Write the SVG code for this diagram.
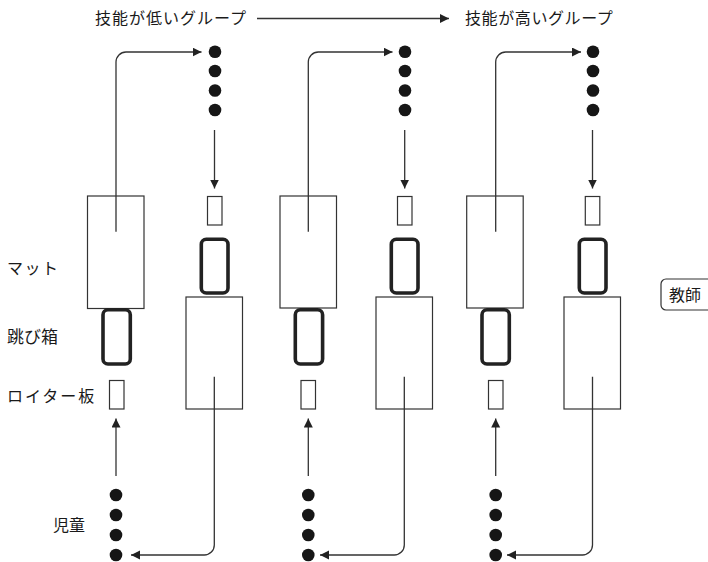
<svg xmlns="http://www.w3.org/2000/svg" width="708" height="562" viewBox="0 0 708 562">
<style>
.lbl{font-family:"Noto Sans CJK JP","Noto Sans",sans-serif;font-size:16px;fill:#1a1a1a}
.mat{fill:#fff;stroke:#333;stroke-width:1.2}
.box{fill:#fff;stroke:#222;stroke-width:3.6}
.brd{fill:#fff;stroke:#333;stroke-width:1.2}
.dot{fill:#161616}
.con{fill:none;stroke:#333;stroke-width:1.3}
</style>
<defs>
<marker id="ah" markerUnits="userSpaceOnUse" markerWidth="10" markerHeight="10" refX="9" refY="4.5" orient="auto">
<path d="M0,0 L9,4.5 L0,9 z" fill="#222"/>
</marker>
</defs>
<rect width="708" height="562" fill="#fff"/>

<g id="labels">
<text class="lbl" x="95" y="24" letter-spacing="1">技能が低いグループ</text>
<text class="lbl" x="465" y="24" letter-spacing="0.6">技能が高いグループ</text>
<text class="lbl" x="7" y="274" letter-spacing="1.5">マット</text>
<text class="lbl" x="7" y="343" style="font-size:17px">跳び箱</text>
<text class="lbl" x="7" y="402" letter-spacing="2">ロイター板</text>
<text class="lbl" x="53" y="531">児童</text>
</g>

<g id="teacher">
<rect x="661" y="279" width="60" height="31" rx="5" fill="#fff" stroke="#333" stroke-width="1.2"/>
<text class="lbl" x="669" y="300.5">教師</text>
</g>

<g id="col1">
<rect class="mat" x="87.5" y="196" width="56.5" height="112.5"/>
<rect class="box" x="103" y="309.7" width="27.3" height="54.3" rx="5"/>
<rect class="brd" x="109.5" y="380.5" width="14.5" height="28.5"/>
</g>
<g id="col2">
<rect class="brd" x="207.5" y="196.5" width="14.5" height="28.5"/>
<rect class="box" x="201.3" y="239.3" width="26.7" height="53.7" rx="5"/>
<rect class="mat" x="186" y="297" width="56.5" height="112"/>
</g>
<g id="col3">
<rect class="mat" x="280" y="196" width="56.5" height="112"/>
<rect class="box" x="295.3" y="309.7" width="27.3" height="54.3" rx="5"/>
<rect class="brd" x="301" y="380.5" width="14.5" height="28.5"/>
</g>
<g id="col4">
<rect class="brd" x="397.5" y="196.5" width="14.5" height="28.5"/>
<rect class="box" x="391.3" y="239.3" width="26.7" height="53.7" rx="5"/>
<rect class="mat" x="376" y="297" width="56.5" height="112"/>
</g>
<g id="col5">
<rect class="mat" x="466.7" y="196" width="56.5" height="112"/>
<rect class="box" x="482" y="309.7" width="27.3" height="54.3" rx="5"/>
<rect class="brd" x="488.5" y="380.5" width="14.5" height="28.5"/>
</g>
<g id="col6">
<rect class="brd" x="585.3" y="196.5" width="14.5" height="28.5"/>
<rect class="box" x="579.3" y="239.3" width="26.7" height="53.7" rx="5"/>
<rect class="mat" x="564" y="297" width="56.5" height="112"/>
</g>

<g id="dots-top">
<circle class="dot" cx="215" cy="51.7" r="6.3"/><circle class="dot" cx="215" cy="71" r="6.3"/><circle class="dot" cx="215" cy="90.5" r="6.3"/><circle class="dot" cx="215" cy="110" r="6.3"/>
<circle class="dot" cx="405" cy="51.7" r="6.3"/><circle class="dot" cx="405" cy="71" r="6.3"/><circle class="dot" cx="405" cy="90.5" r="6.3"/><circle class="dot" cx="405" cy="110" r="6.3"/>
<circle class="dot" cx="593" cy="51.7" r="6.3"/><circle class="dot" cx="593" cy="71" r="6.3"/><circle class="dot" cx="593" cy="90.5" r="6.3"/><circle class="dot" cx="593" cy="110" r="6.3"/>
</g>
<g id="dots-bottom">
<circle class="dot" cx="116" cy="495" r="6.3"/><circle class="dot" cx="116" cy="515" r="6.3"/><circle class="dot" cx="116" cy="535" r="6.3"/><circle class="dot" cx="116" cy="555" r="6.3"/>
<circle class="dot" cx="308.3" cy="495" r="6.3"/><circle class="dot" cx="308.3" cy="515" r="6.3"/><circle class="dot" cx="308.3" cy="535" r="6.3"/><circle class="dot" cx="308.3" cy="555" r="6.3"/>
<circle class="dot" cx="495.7" cy="495" r="6.3"/><circle class="dot" cx="495.7" cy="515" r="6.3"/><circle class="dot" cx="495.7" cy="535" r="6.3"/><circle class="dot" cx="495.7" cy="555" r="6.3"/>
</g>

<g id="connectors" class="con">
<path class="con" d="M257,18.5 H449" marker-end="url(#ah)"/>
<path class="con" d="M116,231.7 V62 A10,10 0 0 1 126,52 H201.5" marker-end="url(#ah)"/>
<path class="con" d="M308.3,231.7 V62 A10,10 0 0 1 318.3,52 H392.5" marker-end="url(#ah)"/>
<path class="con" d="M495.7,231.7 V62 A10,10 0 0 1 505.7,52 H581" marker-end="url(#ah)"/>
<path class="con" d="M214.5,130 V188.5" marker-end="url(#ah)"/>
<path class="con" d="M404.7,130 V188.5" marker-end="url(#ah)"/>
<path class="con" d="M592.5,130 V188.5" marker-end="url(#ah)"/>
<path class="con" d="M116,476 V418.5" marker-end="url(#ah)"/>
<path class="con" d="M308.3,476 V418.5" marker-end="url(#ah)"/>
<path class="con" d="M495.7,476 V418.5" marker-end="url(#ah)"/>
<path class="con" d="M214.3,376.7 V545 A10,10 0 0 1 204.3,555 H131" marker-end="url(#ah)"/>
<path class="con" d="M404.3,376.7 V545 A10,10 0 0 1 394.3,555 H320" marker-end="url(#ah)"/>
<path class="con" d="M592.5,376.7 V545 A10,10 0 0 1 582.5,555 H507" marker-end="url(#ah)"/>
</g>
</svg>
